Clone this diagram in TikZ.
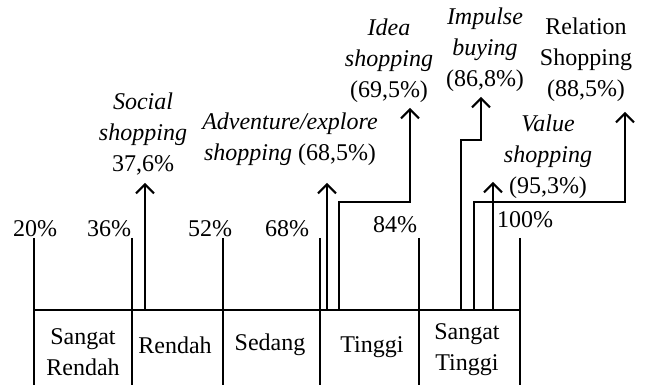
\documentclass[tikz,border=0pt]{standalone}
\usepackage{fontspec}
\setmainfont{Liberation Serif}
\usetikzlibrary{arrows.meta,positioning}
\tikzset{
  axis/.style={line width=1pt},
  up/.style={line width=1pt,-{Straight Barb[length=4.5pt,width=9pt]}},
  lbl/.style={font=\fontsize{12}{15.5}\selectfont,align=center,inner sep=0pt},
  kind/.style={lbl,font=\fontsize{12}{15.5}\selectfont\itshape}
}
\begin{document}
\begin{tikzpicture}[x=0.5pt,y=-0.5pt]
  \useasboundingbox (0,0) rectangle (645,389);
  % scale
  \draw[axis] (34,310) coordinate (left) -- (520,310) coordinate (right);
  \foreach \x/\n in {34/a,132/b,223/c,320/d,419/e,520/f}
    \draw[axis] (\x,238) coordinate (top\n) -- (\x,385) coordinate (bot\n);
  \node[lbl] (p20) at (35,229) {20\%};
  \node[lbl] (p36) at (109,229) {36\%};
  \node[lbl] (p52) at (210,229) {52\%};
  \node[lbl] (p68) at (287,229) {68\%};
  \node[lbl] (p84) at (395,225) {84\%};
  \node[lbl] (p100) at (525,220) {100\%};
  % categories
  \node[lbl] (srendah) at (83,352) {Sangat\\Rendah};
  \node[lbl] (rendah) at (175,345) {Rendah};
  \node[lbl] (sedang) at (270,345) {Sedang};
  \node[lbl] (tinggi) at (372,347) {Tinggi};
  \node[lbl] (stinggi) at (467,350) {Sangat\\Tinggi};
  % shopping kinds
  \node[kind] (social) at (143,134) {Social\\shopping\\\upshape 37,6\%};
  \node[kind] (adv) at (290,139) {Adventure/explore\\shopping \upshape(68,5\%)};
  \node[kind] (idea) at (389,61) {Idea\\shopping\\\upshape(69,5\%)};
  \node[kind] (impulse) at (485,50) {Impulse\\buying\\\upshape(86,8\%)};
  \node[kind] (value) at (548,157) {Value\\shopping\\\upshape(95,3\%)};
  \node[lbl] (relation) at (586,60) {Relation\\Shopping\\(88,5\%)};
  \coordinate (so0) at (145,310); \coordinate (so1) at (145,183);
  \coordinate (ad0) at (327,310); \coordinate (ad1) at (327,183);
  \coordinate (id0) at (339,310); \coordinate (id1) at (339,202); \coordinate (id2) at (410,108);
  \coordinate (im0) at (461,310); \coordinate (im1) at (461,140); \coordinate (im2) at (481,97);
  \coordinate (va0) at (493,310); \coordinate (va1) at (493,182);
  \coordinate (re0) at (474,310); \coordinate (re1) at (474,202); \coordinate (re2) at (625,112);
  \draw[up] (so0) -- (so1);
  \draw[up] (ad0) -- (ad1);
  \draw[up] (id0) -- (id1) -| (id2);
  \draw[up] (im0) -- (im1) -| (im2);
  \draw[up] (va0) -- (va1);
  \draw[up] (re0) -- (re1) -| (re2);
\end{tikzpicture}
\end{document}
